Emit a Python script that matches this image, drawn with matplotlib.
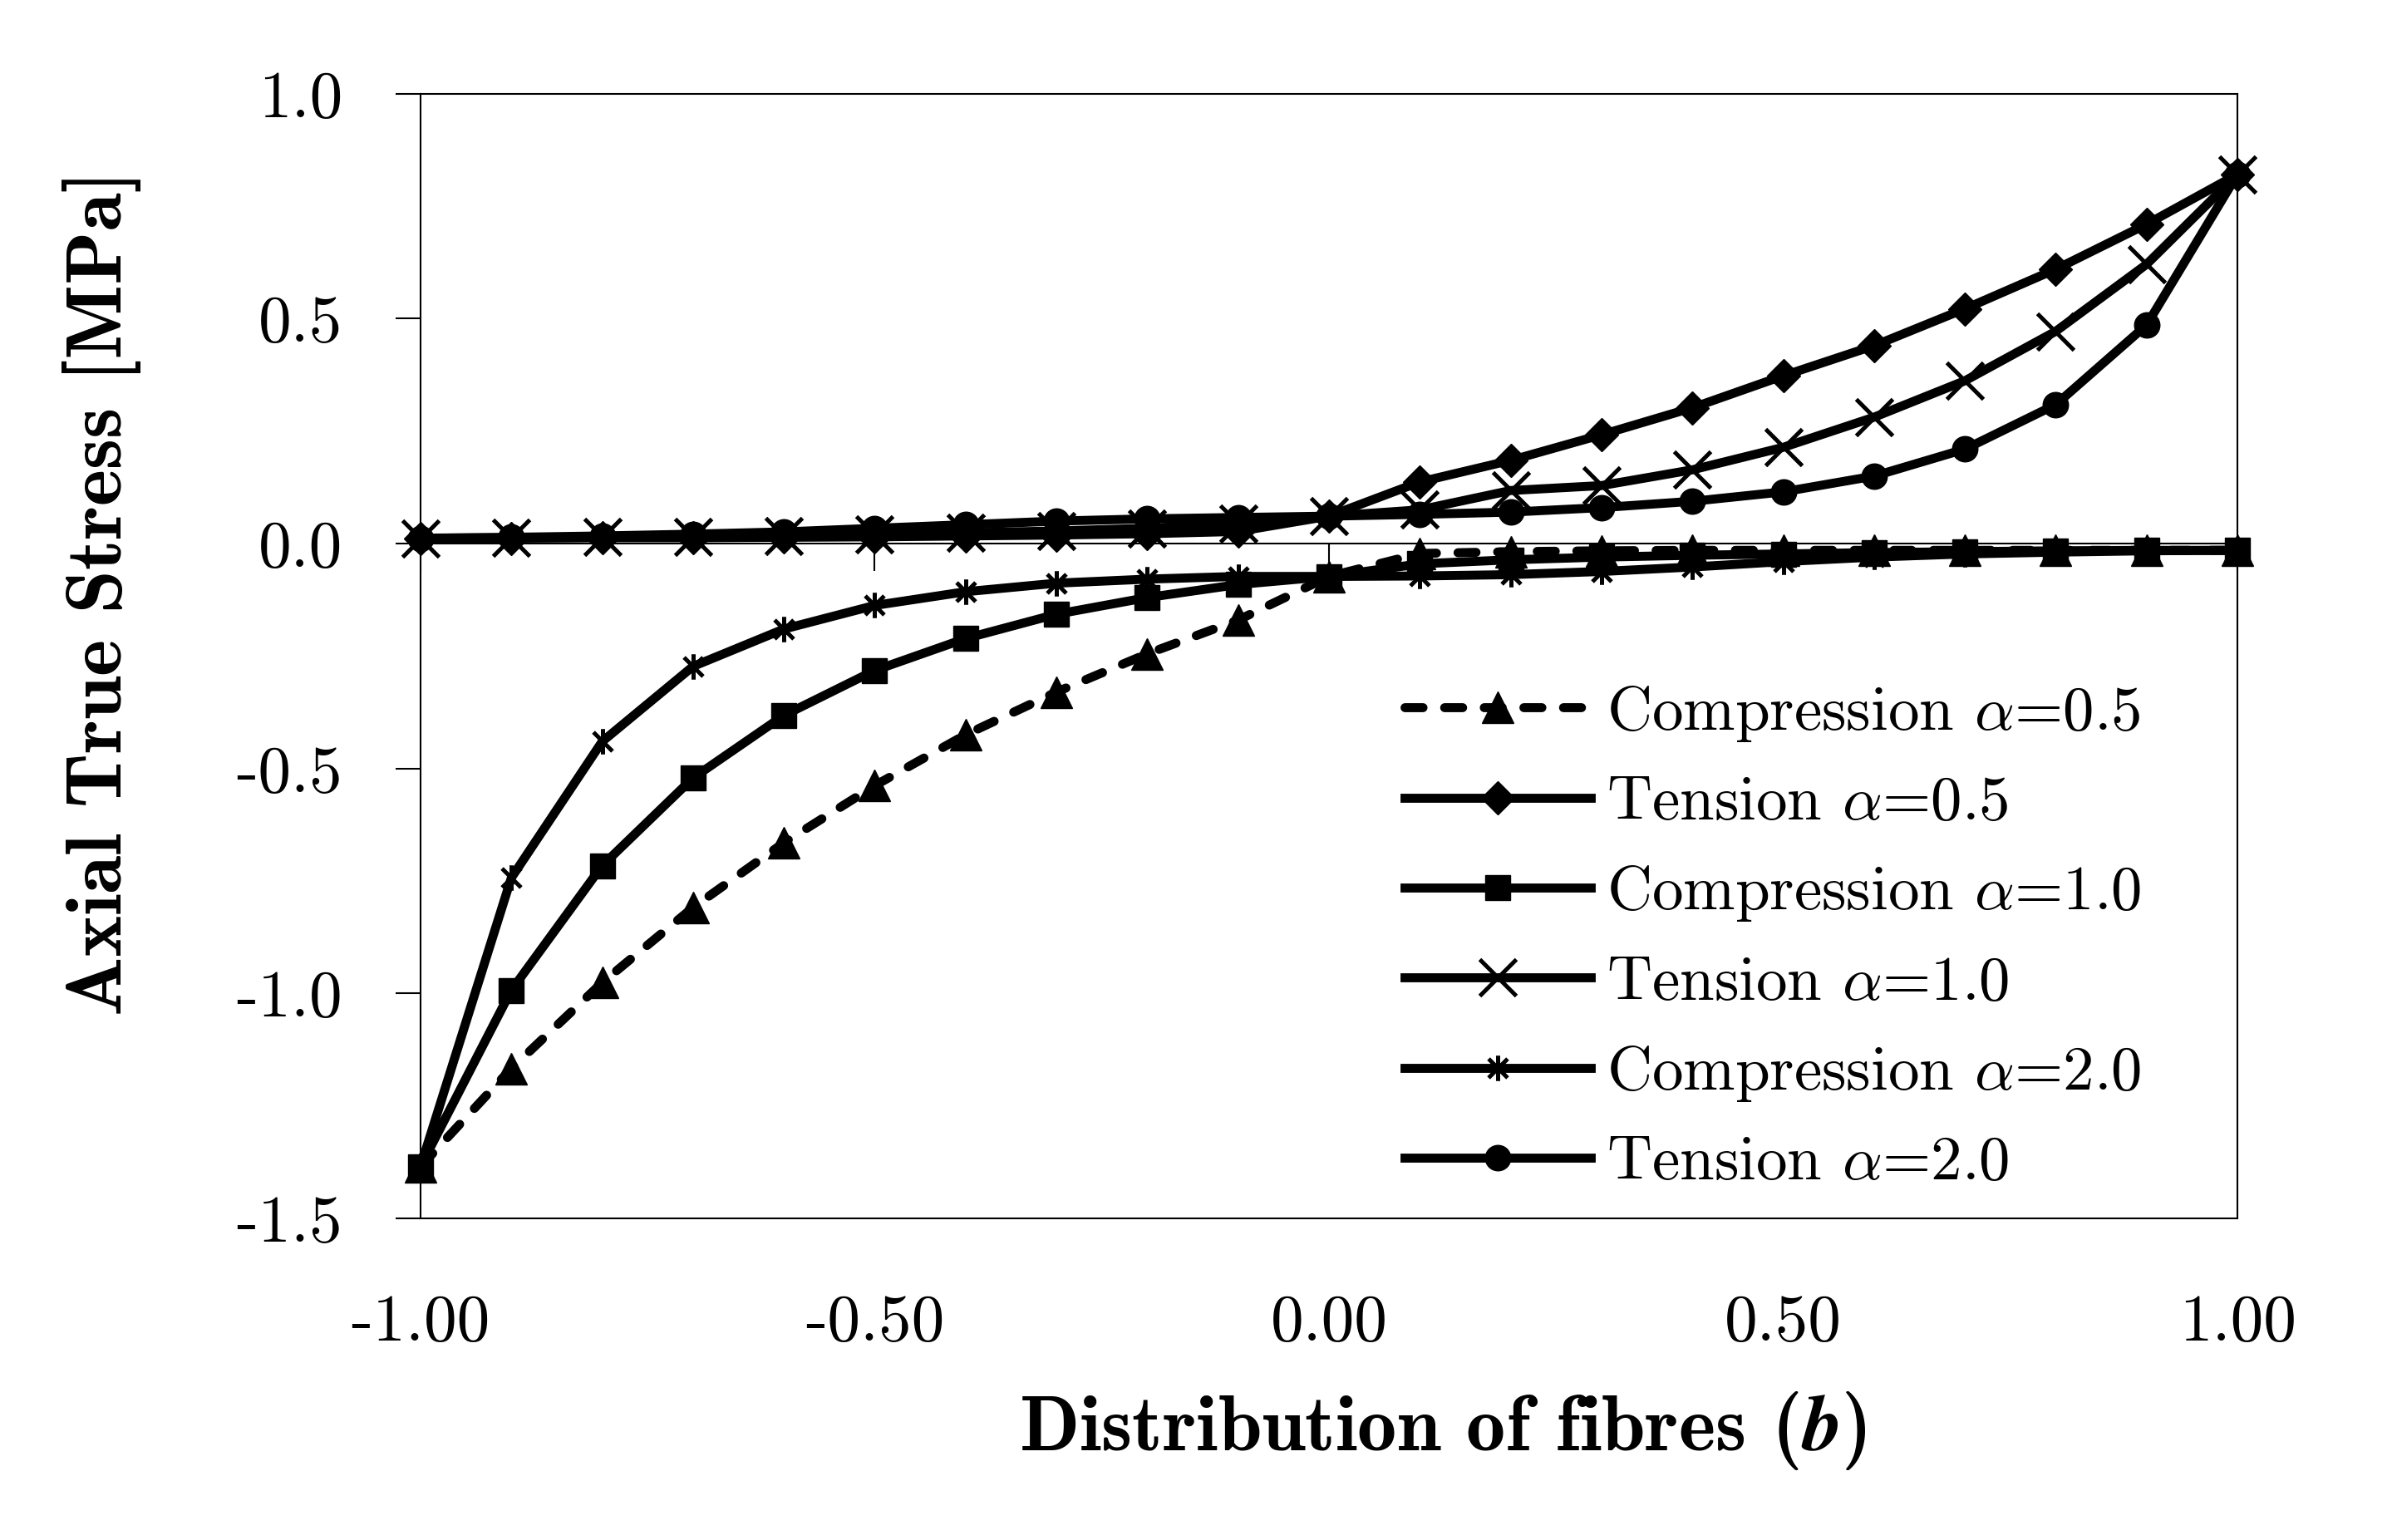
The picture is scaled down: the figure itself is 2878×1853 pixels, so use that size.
import numpy as np
import matplotlib
matplotlib.use('Agg')
import matplotlib.pyplot as plt
from matplotlib.path import Path
from matplotlib.ticker import FormatStrFormatter

plt.rcParams['font.family'] = 'cmr10'
plt.rcParams['mathtext.fontset'] = 'cm'
plt.rcParams['axes.unicode_minus'] = False

# distribution of fibres b
b_vals = [-1.0, -0.9, -0.8, -0.7, -0.6, -0.5, -0.4, -0.3, -0.2, -0.1, 0.0,
          0.1, 0.2, 0.3, 0.4, 0.5, 0.6, 0.7, 0.8, 0.9, 1.0]

# axial true stress [MPa]
comp_05 = [-1.385, -1.167, -0.976, -0.809, -0.665, -0.538, -0.425, -0.33, -0.245, -0.17, -0.073,
           -0.022, -0.018, -0.016, -0.015, -0.015, -0.015, -0.015, -0.015, -0.015, -0.015]
tens_05 = [0.012, 0.012, 0.013, 0.013, 0.014, 0.015, 0.017, 0.019, 0.022, 0.027, 0.061,
           0.137, 0.185, 0.242, 0.302, 0.373, 0.44, 0.522, 0.61, 0.71, 0.821]
comp_10 = [-1.385, -0.993, -0.716, -0.521, -0.382, -0.282, -0.211, -0.157, -0.12, -0.091, -0.073,
           -0.045, -0.036, -0.03, -0.026, -0.023, -0.02, -0.018, -0.016, -0.015, -0.015]
tens_10 = [0.012, 0.013, 0.014, 0.015, 0.017, 0.02, 0.024, 0.028, 0.034, 0.045, 0.061,
           0.075, 0.118, 0.129, 0.164, 0.214, 0.281, 0.362, 0.472, 0.621, 0.821]
comp_20 = [-1.385, -0.743, -0.44, -0.273, -0.19, -0.1375, -0.107, -0.088, -0.079, -0.073, -0.073,
           -0.072, -0.069, -0.062, -0.052, -0.04, -0.03, -0.023, -0.019, -0.016, -0.015]
tens_20 = [0.012, 0.014, 0.017, 0.021, 0.026, 0.034, 0.042, 0.05, 0.055, 0.058, 0.061,
           0.065, 0.07, 0.08, 0.094, 0.115, 0.15, 0.21, 0.309, 0.486, 0.821]

labels = ['Compression $\\alpha$=0.5', 'Tension $\\alpha$=0.5',
          'Compression $\\alpha$=1.0', 'Tension $\\alpha$=1.0',
          'Compression $\\alpha$=2.0', 'Tension $\\alpha$=2.0']

xticks = [-1.0, -0.5, 0.0, 0.5, 1.0]
yticks = [-1.5, -1.0, -0.5, 0.0, 0.5, 1.0]

# asterisk marker: vertical bar plus an X
star = Path([(0, -1), (0, 1), (-0.75, -0.75), (0.75, 0.75), (-0.75, 0.75), (0.75, -0.75)],
            [Path.MOVETO, Path.LINETO, Path.MOVETO, Path.LINETO, Path.MOVETO, Path.LINETO])

fig = plt.figure(figsize=(14.39, 9.265), dpi=200)
ax = fig.add_axes([0.1758, 0.2089, 0.7596, 0.7302])

lw = 3.9
ax.plot(b_vals, comp_05, color='black', lw=lw, ls=(0, (2.0, 2.4)), dash_capstyle='round',
        marker='^', ms=14, mew=0.5, label=labels[0], clip_on=False, zorder=3)
ax.plot(b_vals, tens_05, color='black', lw=lw, marker='D', ms=10, mew=0.5,
        label=labels[1], clip_on=False, zorder=3)
ax.plot(b_vals, comp_10, color='black', lw=lw, marker='s', ms=11, mew=0.5,
        label=labels[2], clip_on=False, zorder=3)
ax.plot(b_vals, tens_10, color='black', lw=lw, marker='x', ms=16, mew=1.8,
        label=labels[3], clip_on=False, zorder=3)
ax.plot(b_vals, comp_20, color='black', lw=lw, marker=star, ms=11, mew=1.8, mfc='none',
        label=labels[4], clip_on=False, zorder=3)
ax.plot(b_vals, tens_20, color='black', lw=lw, marker='o', ms=11, mew=0.5,
        label=labels[5], clip_on=False, zorder=3)

ax.set_xlim(-1.0, 1.0)
ax.set_ylim(-1.5, 1.0)

# horizontal axis crossing at zero, with its tick marks hanging below
ax.axhline(0, color='black', lw=0.75, zorder=2)
ax.vlines(xticks, 0, -0.061, color='black', lw=0.75, zorder=2)

ax.set_xticks(xticks)
ax.set_yticks(yticks)
ax.xaxis.set_major_formatter(FormatStrFormatter('%.2f'))
ax.yaxis.set_major_formatter(FormatStrFormatter('%.1f'))
ax.tick_params(axis='x', length=0, pad=33, labelsize=28.5)
ax.tick_params(axis='y', direction='out', length=10.8, width=0.75, pad=23, labelsize=28.5)
for s in ax.spines.values():
    s.set_linewidth(0.75)

fig.text(0.0427, 0.6152, 'Axial True Stress [MPa]', rotation=90, ha='center', va='center',
         family='cmb10', fontsize=34)
fig.text(0.603, 0.0707, 'Distribution of fibres ($\\mathbfit{b}$)', ha='center', va='center',
         family='cmb10', fontsize=34)

ax.legend(loc='upper left', bbox_to_anchor=(0.5872, 0.556), bbox_transform=fig.transFigure,
          frameon=False, fontsize=27, handlelength=2.99, handletextpad=0.25,
          labelspacing=0.515, borderpad=0, borderaxespad=0)

plt.savefig('out.png', dpi=200)
